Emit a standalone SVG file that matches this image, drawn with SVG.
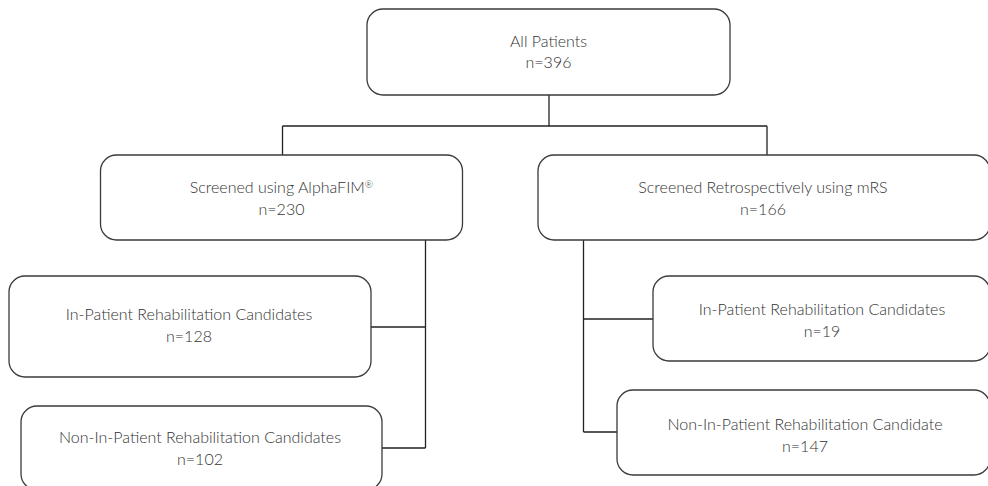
<svg xmlns="http://www.w3.org/2000/svg" width="988" height="486" viewBox="0 0 988 486">
<style>
.box{fill:#fff;stroke:#3a3a3a;stroke-width:1.3}
.t{font-family:Lato,"Noto Sans","Liberation Sans",sans-serif;font-size:16px;fill:#333;text-anchor:middle;font-weight:300}
.c{fill:none;stroke:#222;stroke-width:1.3}
.sup{font-size:10px}
</style>
<rect width="988" height="486" fill="#fff"/>
<g id="connectors">
<path class="c" d="M549 95V126M282.5 126H767M282.5 126V155M767 126V155"/>
<path class="c" d="M425.5 240V448M371 327H425.5M382 448H425.5"/>
<path class="c" d="M583.5 240V432M583.5 319H653M583.5 432H617"/>
</g>
<g id="all">
<rect class="box" x="367" y="9" width="363" height="86" rx="16"/>
<text class="t" x="548.5" y="47">All Patients</text>
<text class="t" x="548.5" y="68">n=396</text>
</g>
<g id="alphafim">
<rect class="box" x="100.5" y="155" width="362" height="85" rx="16"/>
<text class="t" x="281.5" y="193">Screened using AlphaFIM<tspan class="sup" dy="-5">®</tspan></text>
<text class="t" x="281.5" y="215">n=230</text>
</g>
<g id="mrs">
<rect class="box" x="538" y="155" width="452" height="85" rx="16"/>
<text class="t" x="763" y="193">Screened Retrospectively using mRS</text>
<text class="t" x="763" y="215">n=166</text>
</g>
<g id="left-in">
<rect class="box" x="9" y="276" width="362" height="101" rx="16"/>
<text class="t" x="189" y="320">In-Patient Rehabilitation Candidates</text>
<text class="t" x="189" y="342">n=128</text>
</g>
<g id="left-non">
<rect class="box" x="21" y="406" width="361" height="84" rx="16"/>
<text class="t" x="200" y="443">Non-In-Patient Rehabilitation Candidates</text>
<text class="t" x="200" y="465">n=102</text>
</g>
<g id="right-in">
<rect class="box" x="653" y="276" width="337" height="85" rx="16"/>
<text class="t" x="822" y="315">In-Patient Rehabilitation Candidates</text>
<text class="t" x="822" y="337">n=19</text>
</g>
<g id="right-non">
<rect class="box" x="617" y="390" width="373" height="85" rx="16"/>
<text class="t" x="805" y="430">Non-In-Patient Rehabilitation Candidate</text>
<text class="t" x="805" y="452">n=147</text>
</g>
</svg>
